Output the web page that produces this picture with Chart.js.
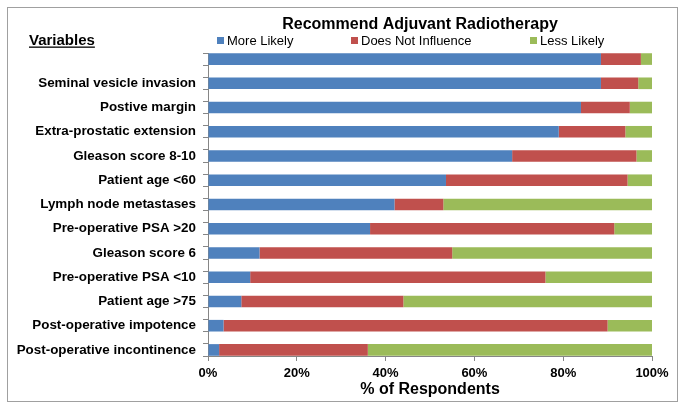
<!DOCTYPE html>
<html><head><meta charset="utf-8">
<script src="https://cdn.jsdelivr.net/npm/chart.js@4.4.1/dist/chart.umd.min.js"></script>
<style>html,body{margin:0;padding:0;background:#fff;}#wrap{width:683px;height:410px;}</style>
</head><body><div id="wrap"><canvas id="c" width="683" height="410"></canvas></div>
<script>
const categories = ["", "Seminal vesicle invasion", "Postive margin", "Extra-prostatic extension", "Gleason score 8-10", "Patient age <60", "Lymph node metastases", "Pre-operative PSA >20", "Gleason score 6", "Pre-operative PSA <10", "Patient age >75", "Post-operative impotence", "Post-operative incontinence"];
const moreLikely       = [88.5, 88.5, 84, 79, 68.5, 53.6, 42, 36.5, 11.6, 9.5, 7.5, 3.5, 2.5];
const doesNotInfluence = [9, 8.4, 11, 15, 28, 40.9, 11, 55, 43.4, 66.5, 36.5, 86.5, 33.5];
const lessLikely       = [2.5, 3.1, 5, 6, 3.5, 5.5, 47, 8.5, 45, 24, 56, 10, 64];
const xTicks = [0, 20, 40, 60, 80, 100];
const seriesNames = ["More Likely", "Does Not Influence", "Less Likely"];
const seriesColors = ["#4F81BD", "#C0504D", "#9BBB59"];
const chartTitle = "Recommend Adjuvant Radiotherapy";
const axisTitle = "% of Respondents";
const leftHeader = "Variables";

const FONT = "'Liberation Sans', Arial, sans-serif";
// interleave blank spacer categories between the rows (as in the original layout)
function spaced(arr, blank) { const out = []; arr.forEach((v, i) => { if (i > 0) out.push(blank); out.push(v); }); return out; }
const labels = spaced(categories, "");
const seriesData = [moreLikely, doesNotInfluence, lessLikely];

const deco = {
  id: 'deco',
  beforeDraw(chart) {
    const ctx = chart.ctx;
    ctx.save();
    ctx.fillStyle = '#fff';
    ctx.fillRect(0, 0, chart.width, chart.height);
    ctx.restore();
  },
  afterDraw(chart) {
    const ctx = chart.ctx, ca = chart.chartArea;
    ctx.save();
    // frame
    ctx.strokeStyle = '#a0a0a0'; ctx.lineWidth = 1;
    ctx.strokeRect(7.5, 7.5, 670, 394);
    // title
    ctx.fillStyle = '#000';
    ctx.font = "bold 16px " + FONT;
    ctx.textAlign = 'center'; ctx.textBaseline = 'alphabetic';
    ctx.fillText(chartTitle, (ca.left + ca.right) / 2 - 10, 28.5);
    // left header
    ctx.font = "bold 15px " + FONT;
    ctx.textAlign = 'left';
    ctx.fillText(leftHeader, 29, 45);
    const w = ctx.measureText(leftHeader).width;
    ctx.fillRect(29, 46.5, w, 1.3);
    // legend
    const lx = [ca.left + 9, ca.left + 143, ca.left + 322];
    ctx.font = "13px " + FONT;
    seriesNames.forEach((n, i) => {
      ctx.fillStyle = seriesColors[i];
      ctx.fillRect(lx[i], 37, 7, 7);
      ctx.fillStyle = '#000';
      ctx.fillText(n, lx[i] + 10, 45);
    });
    ctx.restore();
  }
};

new Chart(document.getElementById('c'), {
  type: 'bar',
  data: {
    labels: labels,
    datasets: seriesNames.map((n, i) => ({
      label: n,
      data: spaced(seriesData[i], null),
      backgroundColor: seriesColors[i],
      borderWidth: 0,
      barPercentage: 0.96,
      categoryPercentage: 1
    }))
  },
  options: {
    indexAxis: 'y',
    responsive: false,
    animation: false,
    layout: { padding: { top: 53, right: 31, bottom: 3, left: 0 } },
    plugins: { legend: { display: false }, title: { display: false }, tooltip: { enabled: false } },
    scales: {
      x: {
        stacked: true, min: 0, max: 100,
        afterBuildTicks: s => { s.ticks = xTicks.map(v => ({ value: v })); },
        afterFit: s => { s.height = 51; },
        ticks: { callback: v => v + '%', color: '#000', font: { family: FONT, weight: 'bold', size: 13 }, padding: 5, maxRotation: 0, autoSkip: false },
        grid: { drawOnChartArea: false, drawTicks: true, tickLength: 5, color: '#868686' },
        border: { color: '#868686' },
        title: { display: true, text: axisTitle, color: '#000', font: { family: FONT, weight: 'bold', size: 16, lineHeight: 1.2 }, padding: { top: 0, bottom: 8 } }
      },
      y: {
        stacked: true,
        afterFit: s => { s.width = 208; },
        ticks: { autoSkip: false, color: '#000', font: { family: FONT, weight: 'bold', size: 13.4 }, padding: 7 },
        grid: { offset: true, drawOnChartArea: false, tickLength: 5, color: '#868686' },
        border: { color: '#868686' }
      }
    }
  },
  plugins: [deco]
});
</script>
</body></html>
